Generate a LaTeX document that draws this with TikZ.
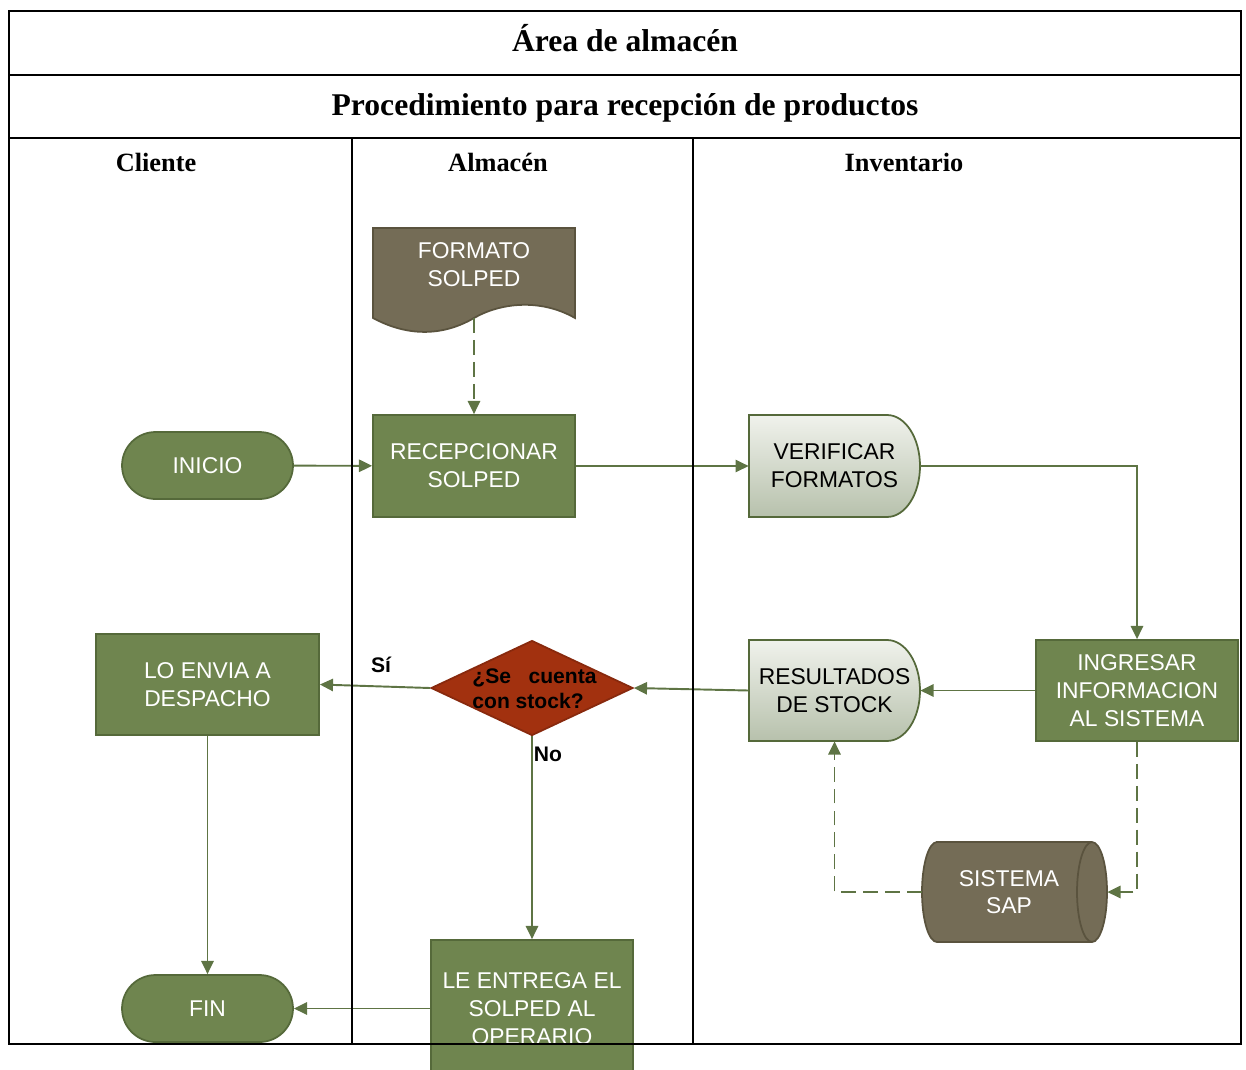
\documentclass[tikz,border=0pt]{standalone}
\usepackage{fontspec}
\setmainfont{Liberation Serif}
\newfontfamily\arialf{Liberation Sans}
\usetikzlibrary{arrows.meta,shapes.geometric}

\definecolor{olivefill}{HTML}{6F854F}
\definecolor{olivedraw}{HTML}{55693A}
\definecolor{linkc}{HTML}{5E7444}
\definecolor{taupefill}{HTML}{746C56}
\definecolor{taupedraw}{HTML}{5A533E}
\definecolor{rustfill}{HTML}{A2310F}
\definecolor{rustdraw}{HTML}{88290D}
\definecolor{paletop}{HTML}{F0F2EC}
\definecolor{palebot}{HTML}{B7C1AC}

\tikzset{
  txtw/.style={text=white, font=\arialf\fontsize{13}{15.8}\selectfont, align=center, inner sep=0pt},
  txtb/.style={text=black, font=\arialf\fontsize{13}{15.8}\selectfont, align=center, inner sep=0pt},
  procbox/.style={txtw, draw=olivedraw, fill=olivefill, line width=1pt},
  term/.style={procbox, rounded corners=0.67cm, minimum width=3.42cm, minimum height=1.34cm},
  delayfill/.style={draw=olivedraw, line width=1pt, top color=paletop, bottom color=palebot},
  storefill/.style={draw=taupedraw, fill=taupefill, line width=1pt},
  link/.style={draw=linkc, line width=1.1pt, -{Triangle[length=7.5pt,width=7pt]}},
  dlink/.style={link, dash pattern=on 8.5pt off 4pt},
  lbl/.style={font=\arialf\bfseries\fontsize{12}{14}\selectfont, inner sep=0pt},
  lanehead/.style={font=\bfseries\fontsize{15}{18}\selectfont, inner sep=0pt},
}

\begin{document}
\begin{tikzpicture}[x=0.02cm, y=-0.02cm]
\useasboundingbox (0,0) rectangle (1246,1069);

% document shape: FORMATO SOLPED
\path[storefill] (373,228) -- (575,228) -- (575,318)
  .. controls (540,298) and (500,303) .. (474,318)
  .. controls (445,335) and (410,338) .. (373,318) -- cycle;
\node[txtw] (fmt) at (474,265) {FORMATO\\SOLPED};
\coordinate (fmtfoot) at (474,318);

% delay shapes
\path[delayfill] (749,415) -- (887,415)
  arc[start angle=90, end angle=-90, x radius=0.66cm, y radius=1.02cm]
  -- (749,517) -- cycle;
\path[delayfill] (749,640) -- (887,640)
  arc[start angle=90, end angle=-90, x radius=0.66cm, y radius=1.01cm]
  -- (749,741) -- cycle;

% direct access storage: SISTEMA SAP
\path[storefill] (937,842) -- (1092,842)
  arc[start angle=90, end angle=-90, x radius=0.3cm, y radius=1cm]
  -- (937,942)
  arc[start angle=270, end angle=90, x radius=0.3cm, y radius=1cm] -- cycle;
\draw[taupedraw, line width=1pt] (1092,842)
  arc[start angle=90, end angle=270, x radius=0.3cm, y radius=1cm];

% nodes
\node[term] (ini) at (207.5,465.5) {INICIO};
\node[procbox, minimum width=4.04cm, minimum height=2.04cm] (rec) at (474,466) {RECEPCIONAR\\SOLPED};
\node[txtb, minimum width=3.42cm, minimum height=2.04cm] (ver) at (834.5,466) {VERIFICAR\\FORMATOS};
\node[procbox, minimum width=4.04cm, minimum height=2.02cm] (ing) at (1137,690.5) {INGRESAR\\INFORMACION\\AL SISTEMA};
\node[txtb, minimum width=3.42cm, minimum height=2.02cm] (res) at (834.5,690.5) {RESULTADOS\\DE STOCK};
\node[diamond, draw=rustdraw, fill=rustfill, line width=1pt, inner sep=0pt,
      minimum width=4.04cm, minimum height=1.9cm] (dia) at (532,688) {};
\node[lbl, align=left] (diaq) at (534.5,689) {¿Se\ \ \ cuenta\\con stock?};
\node[procbox, minimum width=4.46cm, minimum height=2.02cm] (env) at (207.5,684.5) {LO ENVIA A\\DESPACHO};
\node[term] (fin) at (207.5,1008.5) {FIN};
\node[procbox, minimum width=4.04cm, minimum height=2.74cm] (ent) at (532,1008.5) {LE ENTREGA EL\\SOLPED AL\\OPERARIO};
\node[minimum width=3.7cm, minimum height=2cm, inner sep=0pt,
      label={[txtw, xshift=-0.11cm]center:SISTEMA\\SAP}] (sap) at (1014.5,892) {};

% connectors
\draw[link] (ini) -- (rec);
\draw[dlink] (fmtfoot) -- (rec);
\draw[link] (rec) -- (ver);
\draw[link] (ver.east) -| (ing.north);
\draw[link] (ing) -- (res);
\draw[link] (res.west) -- (dia.east);
\draw[link] (dia.west) -- (env.east);
\draw[link] (dia.south) -- (ent.north);
\draw[link] (env) -- (fin);
\draw[link] (ent.west) -- (fin.east);
\draw[dlink] (ing.south) |- (sap.east);
\draw[dlink] (sap.west) -| (res.south);

\node[lbl] (si) at (381,665) {Sí};
\node[lbl] (no) at (548,754) {No};

% swimlane frame
\draw[line width=1.1pt] (9,11) rectangle (1241,1044);
\draw[line width=1.1pt] (9,75) -- (1241,75);
\draw[line width=1.1pt] (9,138) -- (1241,138);
\draw[line width=1.1pt] (352,138) -- (352,1044);
\draw[line width=1.1pt] (693,138) -- (693,1044);

\node[font=\bfseries\fontsize{18}{21}\selectfont, inner sep=0pt, anchor=base] (ttl) at (625,51) {Área de almacén};
\node[font=\bfseries\fontsize{18}{21}\selectfont, inner sep=0pt, anchor=base] (sub) at (625,115) {Procedimiento para recepción de productos};
\node[lanehead] (lc) at (156,162) {Cliente};
\node[lanehead] (la) at (498,162) {Almacén};
\node[lanehead] (li) at (904,162) {Inventario};
\end{tikzpicture}
\end{document}
